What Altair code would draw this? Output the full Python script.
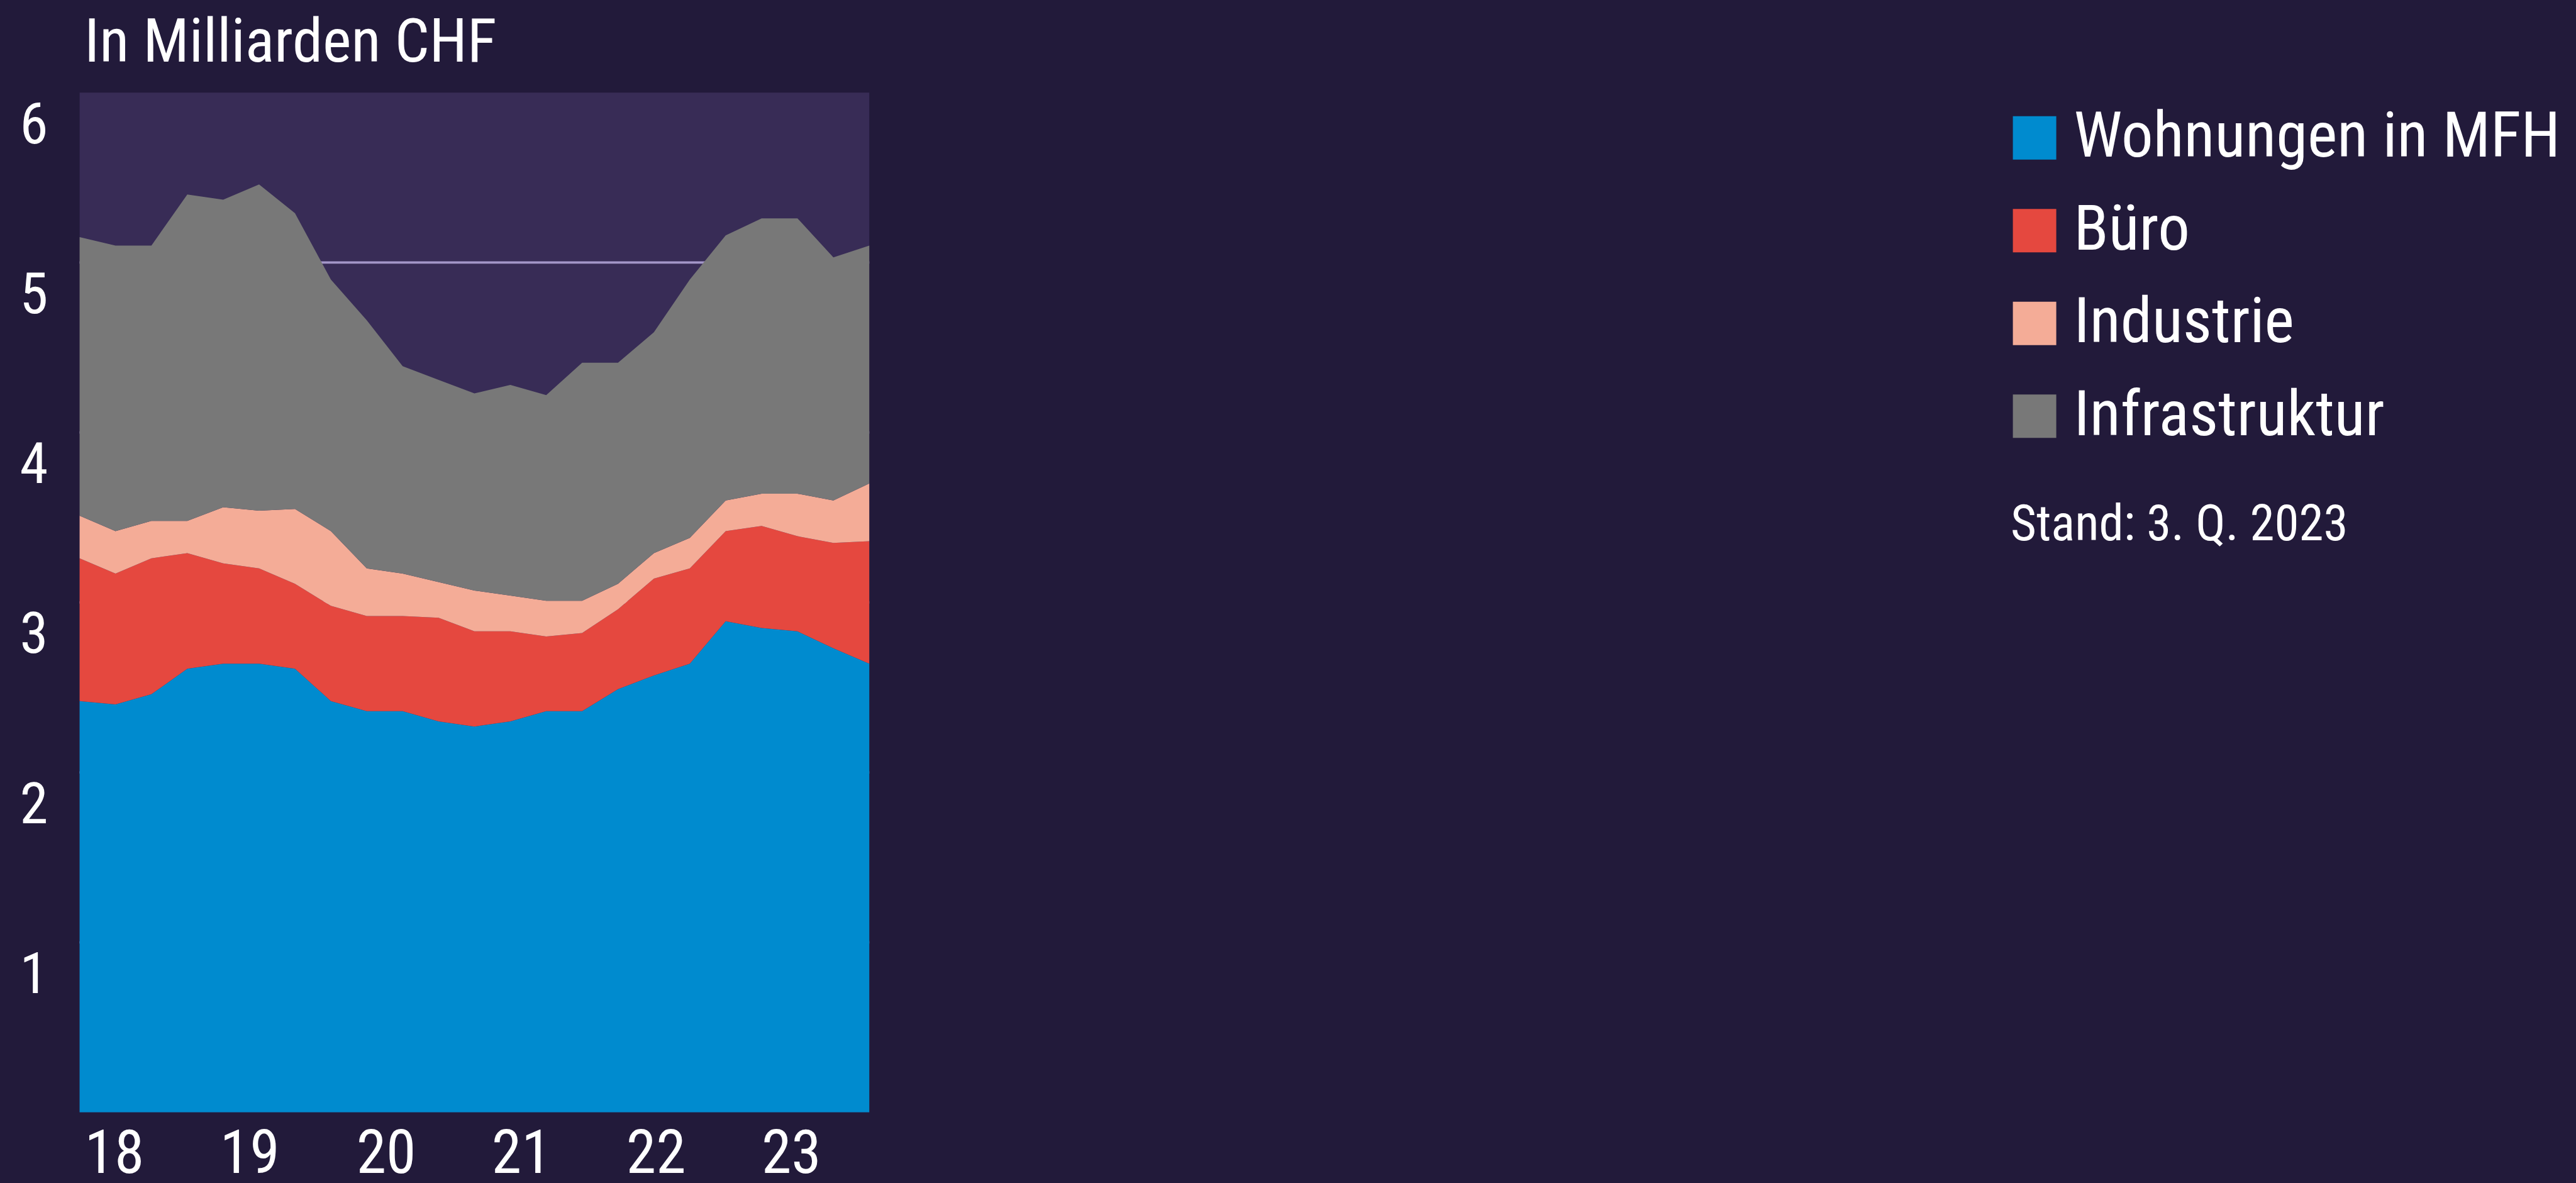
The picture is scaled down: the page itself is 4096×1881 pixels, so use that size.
import altair as alt
import pandas as pd

# Quarterly values 2018 Q1 - 2023 Q3, in billions CHF
QUARTERS = [
    "2018 Q1", "2018 Q2", "2018 Q3", "2018 Q4",
    "2019 Q1", "2019 Q2", "2019 Q3", "2019 Q4",
    "2020 Q1", "2020 Q2", "2020 Q3", "2020 Q4",
    "2021 Q1", "2021 Q2", "2021 Q3", "2021 Q4",
    "2022 Q1", "2022 Q2", "2022 Q3", "2022 Q4",
    "2023 Q1", "2023 Q2", "2023 Q3",
]
WOHNUNGEN = [2.42, 2.40, 2.46, 2.61, 2.64, 2.64, 2.61, 2.42, 2.36, 2.36, 2.30, 2.27,
             2.30, 2.36, 2.36, 2.49, 2.57, 2.64, 2.89, 2.85, 2.83, 2.73, 2.64]
BUERO = [0.84, 0.77, 0.80, 0.68, 0.59, 0.56, 0.50, 0.56, 0.56, 0.56, 0.61, 0.56,
         0.53, 0.44, 0.46, 0.47, 0.57, 0.56, 0.53, 0.60, 0.56, 0.62, 0.72]
INDUSTRIE = [0.25, 0.25, 0.22, 0.19, 0.33, 0.34, 0.44, 0.44, 0.28, 0.25, 0.21, 0.24,
             0.21, 0.21, 0.19, 0.15, 0.15, 0.18, 0.18, 0.19, 0.25, 0.25, 0.34]
INFRASTRUKTUR = [1.64, 1.68, 1.62, 1.92, 1.81, 1.92, 1.74, 1.48, 1.46, 1.22, 1.19, 1.16,
                 1.24, 1.21, 1.40, 1.30, 1.30, 1.52, 1.56, 1.62, 1.62, 1.43, 1.40]

SERIES = ["Wohnungen in MFH", "Büro", "Industrie", "Infrastruktur"]
COLORS = ["#008bcf", "#e5483f", "#f4ac97", "#787878"]

YEAR_LABELS = ["18", "19", "20", "21", "22", "23"]
YEAR_LABEL_POS = [0.14, 3.91, 7.71, 11.48, 15.23, 19.0]   # in quarter-index units
Y_TICKS = [1, 2, 3, 4, 5, 6]
GRID_VALUES = [1, 2, 3, 4, 5]

TITLE = "In Milliarden CHF"
NOTE = "Stand: 3. Q. 2023"

FONT = "Roboto Condensed, Open Sans Condensed, Liberation Sans Narrow, DejaVu Sans Condensed, sans-serif"
BG = "#221a3a"
PLOT_BG = "#382c56"
GRID_COLOR = "#a396c8"

W, H = 1255.6, 1621.4
PAD_L, PAD_T = 126.6, 147.2

rows = []
for k, (name, values) in enumerate(zip(SERIES, [WOHNUNGEN, BUERO, INDUSTRIE, INFRASTRUKTUR])):
    for i, v in enumerate(values):
        rows.append({"idx": i, "quartal": QUARTERS[i], "serie": name, "wert": v, "reihenfolge": k})
df = pd.DataFrame(rows)

x_scale = alt.Scale(domain=[0, len(QUARTERS) - 1], nice=False, zero=False)
y_scale = alt.Scale(domain=[0, 6], nice=False)
y_axis = alt.Axis(
    values=Y_TICKS,
    title=None,
    domain=False,
    ticks=False,
    grid=False,
    labelFont=FONT,
    labelFontSize=91,
    labelColor="#ffffff",
    labelAlign="right",
    labelBaseline="top",
    labelOffset=8,
    labelPadding=50.6,
)

grid = alt.Chart(pd.DataFrame({"v": GRID_VALUES})).mark_rule(
    color=GRID_COLOR, strokeWidth=3.7
).encode(y=alt.Y("v:Q", scale=y_scale, axis=y_axis))

areas = alt.Chart(df).mark_area(interpolate="linear").encode(
    x=alt.X("idx:Q", scale=x_scale, axis=None),
    y=alt.Y("wert:Q", stack="zero", scale=y_scale, axis=y_axis),
    color=alt.Color(
        "serie:N",
        scale=alt.Scale(domain=SERIES, range=COLORS),
        legend=alt.Legend(
            title=None,
            orient="none",
            legendX=3058,
            legendY=21.6,
            padding=0,
            symbolType="square",
            symbolSize=4761,
            symbolStrokeWidth=0,
            symbolOpacity=1,
            labelFont=FONT,
            labelFontSize=101,
            labelColor="#ffffff",
            labelOffset=12,
            labelLimit=2000,
            rowPadding=45.5,
        ),
    ),
    order=alt.Order("reihenfolge:Q"),
)

years = alt.Chart(pd.DataFrame({"pos": YEAR_LABEL_POS, "label": YEAR_LABELS})).mark_text(
    align="left", baseline="alphabetic", font=FONT, fontSize=96, color="#ffffff"
).encode(
    x=alt.X("pos:Q", scale=x_scale, axis=None),
    y=alt.value(H + 96),
    text="label:N",
)

title = alt.Chart(pd.DataFrame({"t": [TITLE]})).mark_text(
    align="left", baseline="alphabetic", font=FONT, fontSize=97, color="#ffffff"
).encode(x=alt.value(7.4), y=alt.value(-49.3), text="t:N")

note = alt.Chart(pd.DataFrame({"t": [NOTE]})).mark_text(
    align="left", baseline="alphabetic", font=FONT, fontSize=79, color="#ffffff"
).encode(x=alt.value(3070.4), y=alt.value(711.8), text="t:N")

chart = alt.layer(grid, areas, years, title, note).properties(
    width=W,
    height=H,
    autosize=alt.AutoSizeParams(type="none"),
    padding={"left": PAD_L, "top": PAD_T, "right": 4096 - PAD_L - W, "bottom": 1881 - PAD_T - H},
    background=BG,
).configure_view(fill=PLOT_BG, strokeWidth=0)

chart.save("out.html", embed_options={"renderer": "svg", "actions": False})
